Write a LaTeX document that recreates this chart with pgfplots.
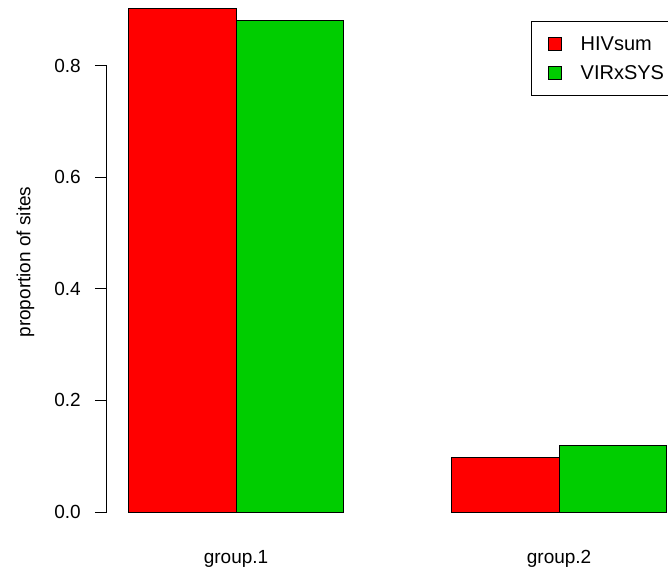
\documentclass[border=0pt]{standalone}
\usepackage{pgfplots}
\pgfplotsset{compat=1.18}
\usepackage{fontspec}
\setmainfont{Liberation Sans}
\definecolor{rred}{HTML}{FF0000}
\definecolor{rgreen}{HTML}{00CD00}
\newcommand{\fs}{\fontsize{19}{22.8}\selectfont}
\newcommand{\fl}{\fontsize{20}{24}\selectfont}
\pgfplotsset{sqlegend/.style={legend image code/.code={\draw[##1, draw=black, line width=0.6pt] (0pt,-6.5pt) rectangle (13pt,6.5pt); \path[draw=none, fill=none] (0pt,0pt) -- (30pt,0pt);}}}
\begin{document}
\begin{tikzpicture}
\begin{axis}[
  at={(106.8pt,36.9pt)}, anchor=south west,
  scale only axis, width=581.5pt, height=544pt,
  xmin=0.8, xmax=6.2, ymin=-0.0361, ymax=0.9391,
  clip=false,
  axis x line*=bottom, axis y line*=left,
  axis line style={draw=none},
  xtick={2,5}, xticklabels={group.1,group.2},
  ytick={0,0.2,0.4,0.6,0.8},
  tick align=outside,
  major tick length=12pt,
  xtick style={draw=none},
  ytick style={black, line width=0.8pt},
  /pgf/number format/assume math mode=true,
  yticklabel style={font=\fs, xshift=-10.5pt, /pgf/number format/.cd, fixed, fixed zerofill, precision=1},
  xticklabel style={font=\fs, yshift=-3pt},
  ylabel={proportion of sites},
  ylabel style={font=\fs, at={(axis description cs:-0.1398,0.4965)}, anchor=center},
  legend style={at={(axis description cs:0.7295,0.9386)}, anchor=north west,
    draw=black, line width=0.8pt, font=\fl, inner xsep=17pt, inner ysep=12.5pt,
    row sep=9.5pt, cells={anchor=west}},
]
\addplot[ybar, bar width=1, bar shift=0pt, fill=rred, draw=black, line width=0.8pt, sqlegend] coordinates {(1.5,0.903) (4.5,0.097)};
\addlegendentry{HIVsum}
\addplot[ybar, bar width=1, bar shift=0pt, fill=rgreen, draw=black, line width=0.8pt, sqlegend] coordinates {(2.5,0.881) (5.5,0.119)};
\addlegendentry{VIRxSYS}
\draw[black, line width=0.8pt] (axis cs:0.8,0) -- (axis cs:0.8,0.8);
\end{axis}
\pgfresetboundingbox
\useasboundingbox (0pt,0pt) rectangle (668pt,569pt);
\end{tikzpicture}
\end{document}
